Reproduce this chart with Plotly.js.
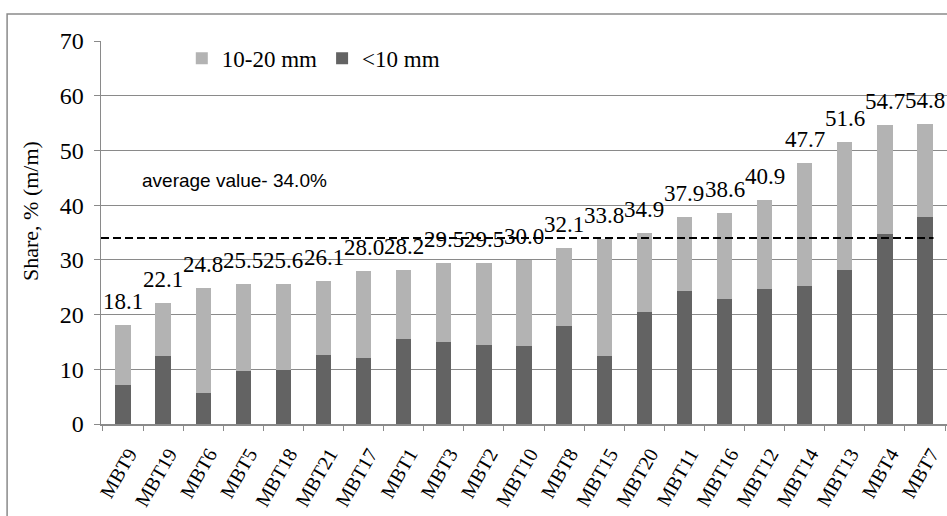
<!DOCTYPE html>
<html>
<head>
<meta charset="utf-8">
<script src="https://cdn.plot.ly/plotly-3.0.1.min.js"></script>
<style>
  html, body { margin: 0; padding: 0; background: #ffffff; }
  #chart { width: 947px; height: 516px; }
</style>
</head>
<body>
<div id="chart"></div>
<script>
// ---- data ----
const categories = ["MBT9","MBT19","MBT6","MBT5","MBT18","MBT21","MBT17","MBT1","MBT3","MBT2","MBT10",
                    "MBT8","MBT15","MBT20","MBT11","MBT16","MBT12","MBT14","MBT13","MBT4","MBT7"];
const below10mm = [7.1, 12.5, 5.6, 9.6, 9.8, 12.7, 12.0, 15.6, 14.9, 14.5, 14.2,
                   18.0, 12.4, 20.4, 24.3, 22.9, 24.7, 25.3, 28.2, 34.8, 37.9];
const mm10to20  = [11.0, 9.6, 19.2, 15.9, 15.8, 13.4, 16.0, 12.6, 14.6, 15.0, 15.8,
                   14.1, 21.4, 14.5, 13.6, 15.7, 16.2, 22.4, 23.4, 19.9, 16.9];
const seriesNames = ["<10 mm", "10-20 mm"];
const averageValue = 34.0;
const averageLabel = "average value- 34.0%";
const yTitle = "Share, % (m/m)";
const yTicks = [0, 10, 20, 30, 40, 50, 60, 70];

// ---- styles ----
const serif = "'Liberation Serif', 'Times New Roman', serif";
const sans = "'Liberation Sans', Arial, sans-serif";
const darkGrey = "#636363";
const lightGrey = "#b3b3b3";
const gridGrey = "#8a8a8a";

const totals = below10mm.map((v, i) => Math.round((v + mm10to20[i]) * 10) / 10);

const traces = [
  { type: "bar", name: seriesNames[0], x: categories, y: below10mm,
    marker: { color: darkGrey, line: { width: 0 } }, hoverinfo: "x+y" },
  { type: "bar", name: seriesNames[1], x: categories, y: mm10to20,
    marker: { color: lightGrey, line: { width: 0 } }, hoverinfo: "x+y" }
];

const annotations = categories.map((c, i) => ({
  x: c, y: totals[i], xref: "x", yref: "y",
  text: totals[i].toFixed(1), showarrow: false,
  yanchor: "bottom", xanchor: "center", yshift: 9,
  font: { family: serif, size: 23, color: "#000" }
}));
annotations.push({
  x: 0.046, y: 0.637, xref: "paper", yref: "paper",
  xanchor: "left", yanchor: "middle", showarrow: false,
  text: averageLabel, font: { family: sans, size: 19, color: "#000" }
});
annotations.push({
  x: -0.084, y: 0.556, xref: "paper", yref: "paper",
  xanchor: "center", yanchor: "middle", showarrow: false, textangle: -90,
  text: yTitle, font: { family: serif, size: 22, color: "#000" }
});

const layout = {
  width: 947, height: 516,
  margin: { l: 101, r: 0, t: 41, b: 92, pad: 0 },
  paper_bgcolor: "#ffffff", plot_bgcolor: "#ffffff",
  barmode: "stack", bargap: 0.62,
  showlegend: true,
  legend: {
    orientation: "h", traceorder: "reversed",
    x: 0.0955, y: 0.955, xanchor: "left", yanchor: "middle",
    font: { family: serif, size: 23, color: "#000" },
    bgcolor: "rgba(0,0,0,0)", itemclick: false
  },
  xaxis: {
    type: "category", tickangle: -60, tickson: "boundaries",
    ticks: "outside", ticklen: 5, tickcolor: gridGrey, tickwidth: 1,
    ticklabelstandoff: 9, ticklabelshift: 6,
    showline: true, linecolor: gridGrey, linewidth: 1.5,
    showgrid: false, zeroline: false,
    tickfont: { family: serif, size: 20, color: "#000" },
    automargin: false
  },
  yaxis: {
    range: [0, 70], tickvals: yTicks, ticktext: yTicks.map(String),
    ticks: "outside", ticklen: 6, tickcolor: gridGrey, tickwidth: 1,
    ticklabelstandoff: 5,
    showline: true, linecolor: gridGrey, linewidth: 1.5,
    showgrid: true, gridcolor: gridGrey, gridwidth: 1,
    zeroline: false,
    tickfont: { family: serif, size: 24, color: "#000" },
    automargin: false
  },
  annotations: annotations,
  shapes: [
    { type: "line", xref: "paper", yref: "y", x0: 0, x1: 0.984, y0: averageValue, y1: averageValue,
      line: { color: "#000", width: 2, dash: "8px,4px" }, layer: "above" },
    { type: "rect", xref: "paper", yref: "paper", x0: -0.111, x1: 1.2, y0: -0.5, y1: 1.0705,
      line: { color: "#8a8a8a", width: 1.5 }, fillcolor: "rgba(0,0,0,0)", layer: "below" }
  ]
};

Plotly.newPlot("chart", traces, layout, { displayModeBar: false, staticPlot: true });
</script>
</body>
</html>
